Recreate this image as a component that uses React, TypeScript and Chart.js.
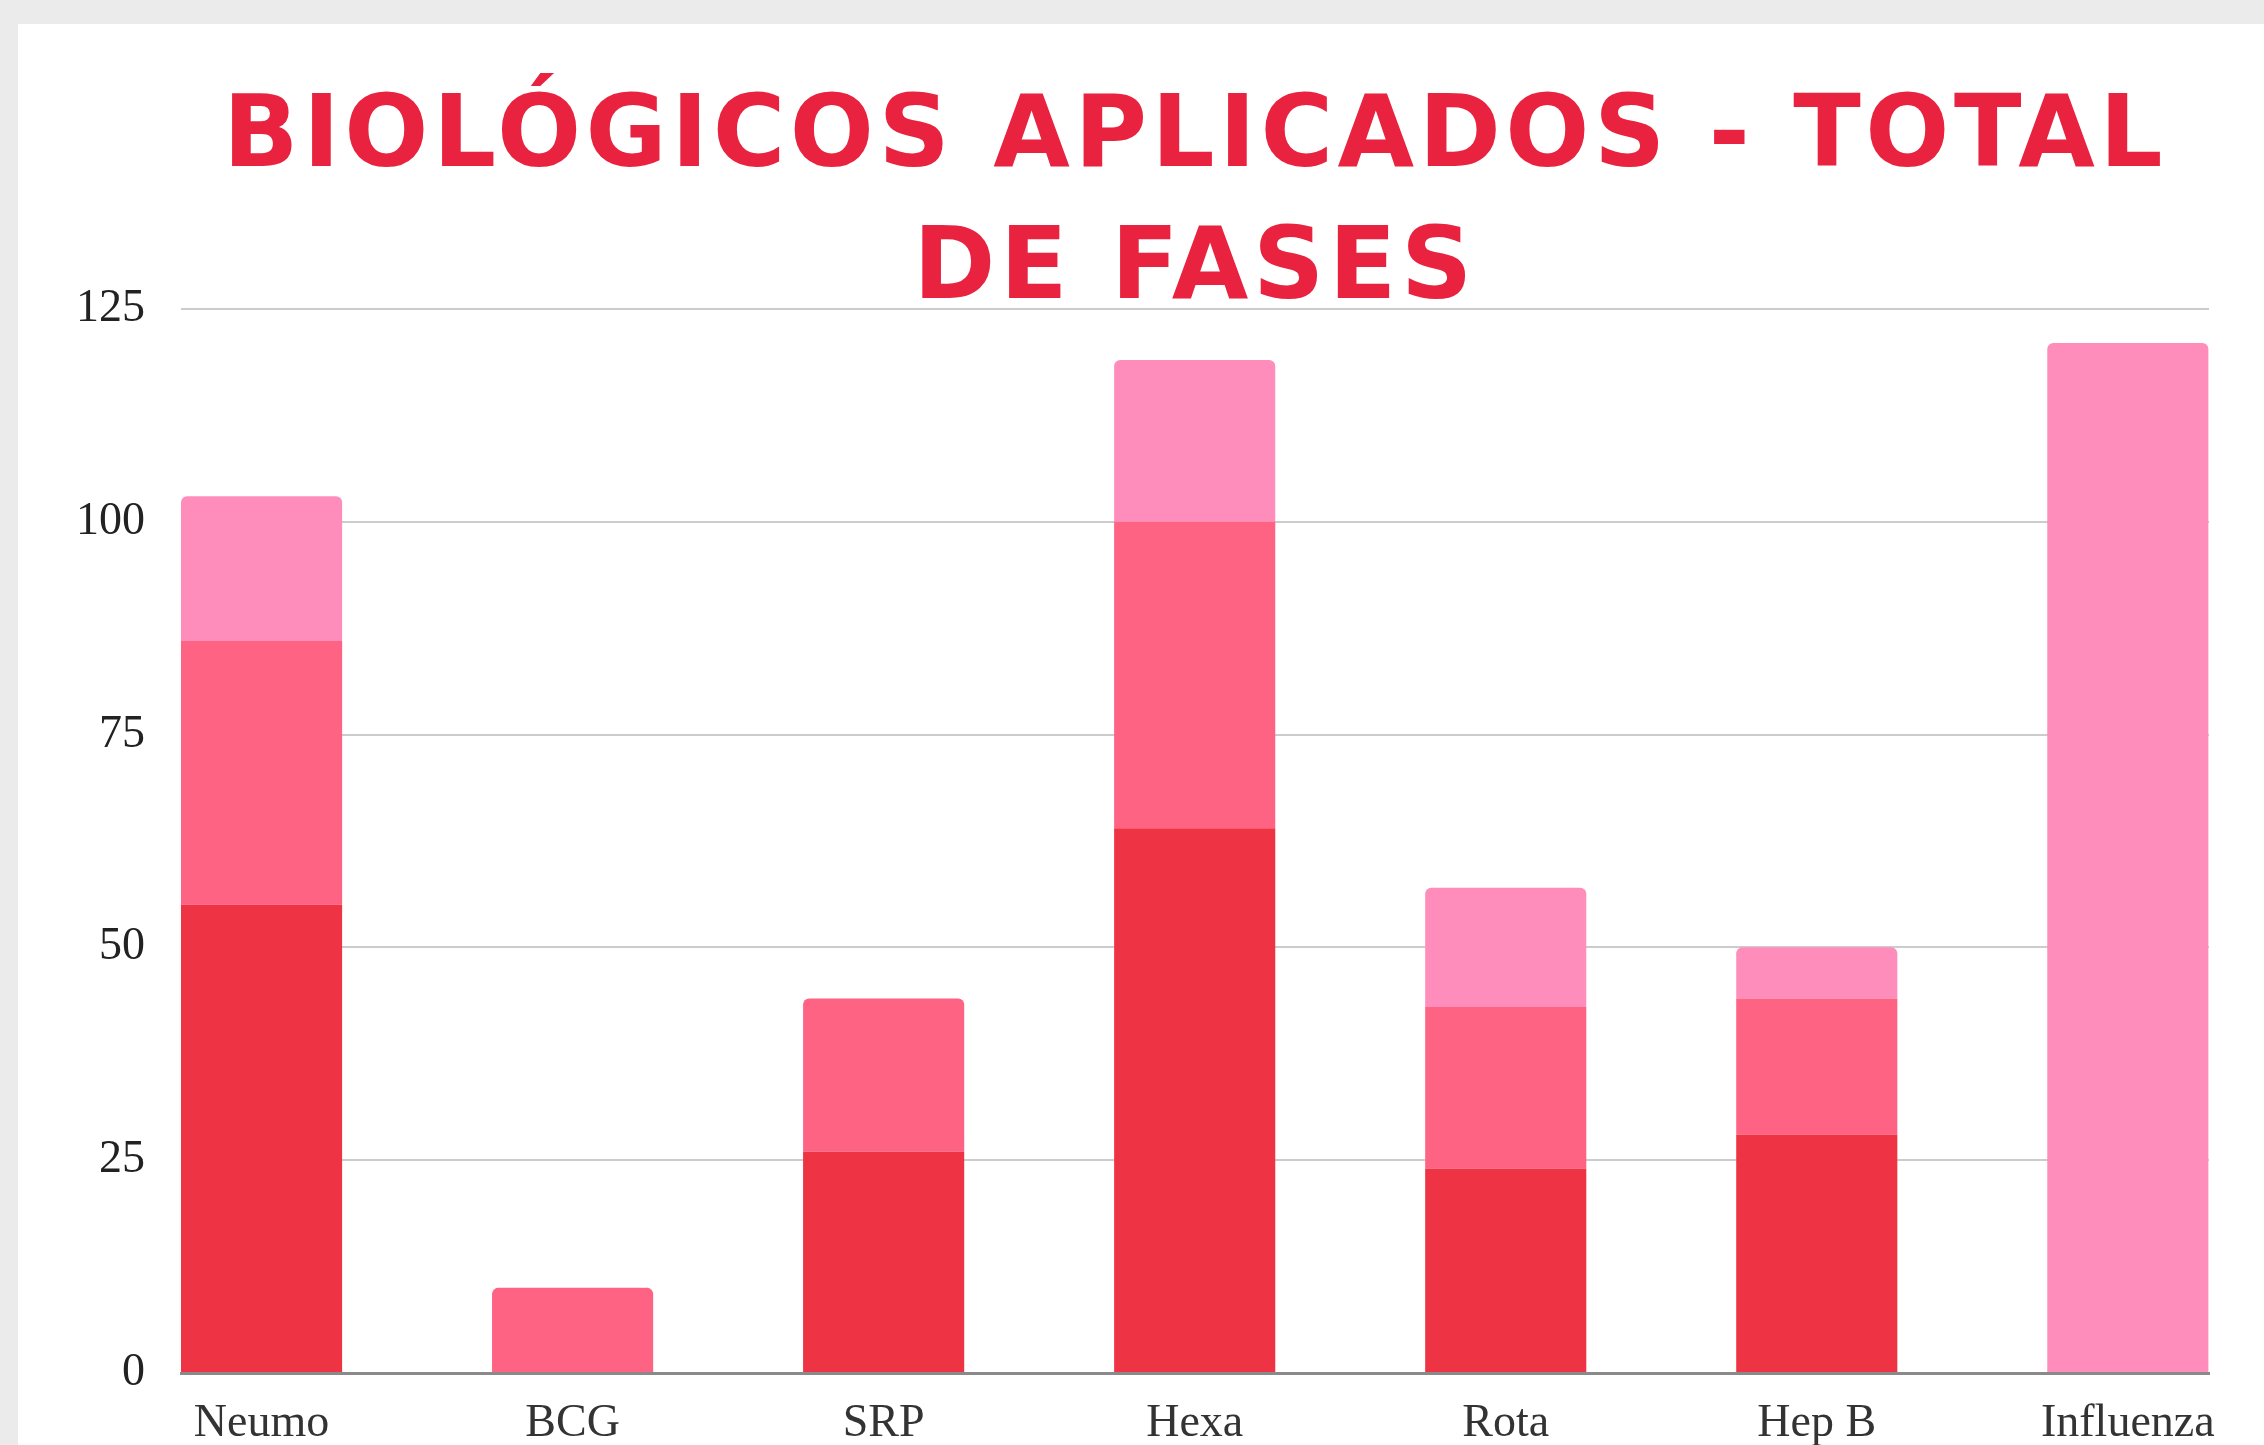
import React, { useEffect, useRef } from "react";
import { Chart, registerables } from "chart.js";

Chart.register(...registerables);

const categories = ["Neumo", "BCG", "SRP", "Hexa", "Rota", "Hep B", "Influenza"];
const fase1 = [55, null, 26, 64, 24, 28, null];
const fase2 = [31, 10, 18, 36, 19, 16, null];
const fase3 = [17, null, null, 19, 14, 6, 121];
const yTicks = [0, 25, 50, 75, 100, 125];
const titleLines = ["BIOLÓGICOS APLICADOS - TOTAL", "DE FASES"];

const toPoints = (arr: (number | null)[]) => arr.map((v, i) => ({ x: i, y: v }));

// Wider title tracking (the original uses a wide geometric font)
const titleSpacing = {
  id: "titleSpacing",
  beforeDraw(chart: any) {
    chart.ctx.letterSpacing = "4.5px";
  },
  beforeDatasetsDraw(chart: any) {
    chart.ctx.letterSpacing = "0px";
  },
};

export default function App() {
  const ref = useRef<HTMLCanvasElement | null>(null);

  useEffect(() => {
    document.body.style.margin = "0";
    const canvas = ref.current;
    if (!canvas) return;
    const serif = "'Liberation Serif', 'Times New Roman', serif";
    const chart = new Chart(canvas, {
      type: "bar",
      plugins: [titleSpacing],
      data: {
        datasets: [
          { label: "Fase 1", data: toPoints(fase1) as any, backgroundColor: "#EE3344" },
          { label: "Fase 2", data: toPoints(fase2) as any, backgroundColor: "#FF6384" },
          { label: "Fase 3", data: toPoints(fase3) as any, backgroundColor: "#FF8DBC" },
        ],
      },
      options: {
        animation: false,
        responsive: false,
        devicePixelRatio: 1,
        layout: { padding: { left: 0, right: 55, top: 0, bottom: 0 } },
        datasets: {
          bar: {
            categoryPercentage: 1,
            barPercentage: 0.518,
            borderRadius: 6,
            borderSkipped: "start",
          },
        },
        plugins: {
          legend: { display: false },
          tooltip: { enabled: false },
          title: {
            display: true,
            fullSize: false,
            text: titleLines,
            color: "#E9233F",
            font: { family: "'DejaVu Sans', sans-serif", size: 99, weight: "bold", lineHeight: 1.333 },
            padding: { top: 74, bottom: -29 },
          },
        },
        scales: {
          x: {
            type: "linear",
            stacked: true,
            min: -0.259,
            max: 6.261,
            offset: false,
            grid: { display: false, offset: false, drawTicks: false },
            border: { display: true, color: "#8a8a8a", width: 3, z: 1 },
            ticks: {
              z: 1,
              stepSize: 1,
              includeBounds: false,
              autoSkip: false,
              maxRotation: 0,
              minRotation: 0,
              padding: 23,
              color: "#333333",
              font: { family: serif, size: 46 },
              callback: (v: any) => {
                const n = Number(v);
                return Number.isInteger(n) && categories[n] ? categories[n] : "";
              },
            },
            afterFit: (s: any) => {
              s.height = 72;
            },
          },
          y: {
            stacked: true,
            min: 0,
            max: 125,
            grid: { color: "#cccccc", lineWidth: 2, drawTicks: false },
            border: { display: false },
            afterBuildTicks: (s: any) => {
              s.ticks = yTicks.map((v) => ({ value: v }));
            },
            ticks: {
              z: 1,
              padding: 36,
              color: "#222222",
              font: { family: serif, size: 46 },
            },
            afterFit: (s: any) => {
              s.width = 181;
            },
          },
        },
      },
    });
    return () => chart.destroy();
  }, []);

  return (
    <div style={{ position: "relative", width: 2264, height: 1445, background: "#ebebeb", overflow: "hidden" }}>
      <div style={{ position: "absolute", left: 18, top: 24, right: 0, bottom: 0, background: "#ffffff" }} />
      <canvas ref={ref} width={2264} height={1445} style={{ position: "absolute", left: 0, top: 0 }} />
    </div>
  );
}
